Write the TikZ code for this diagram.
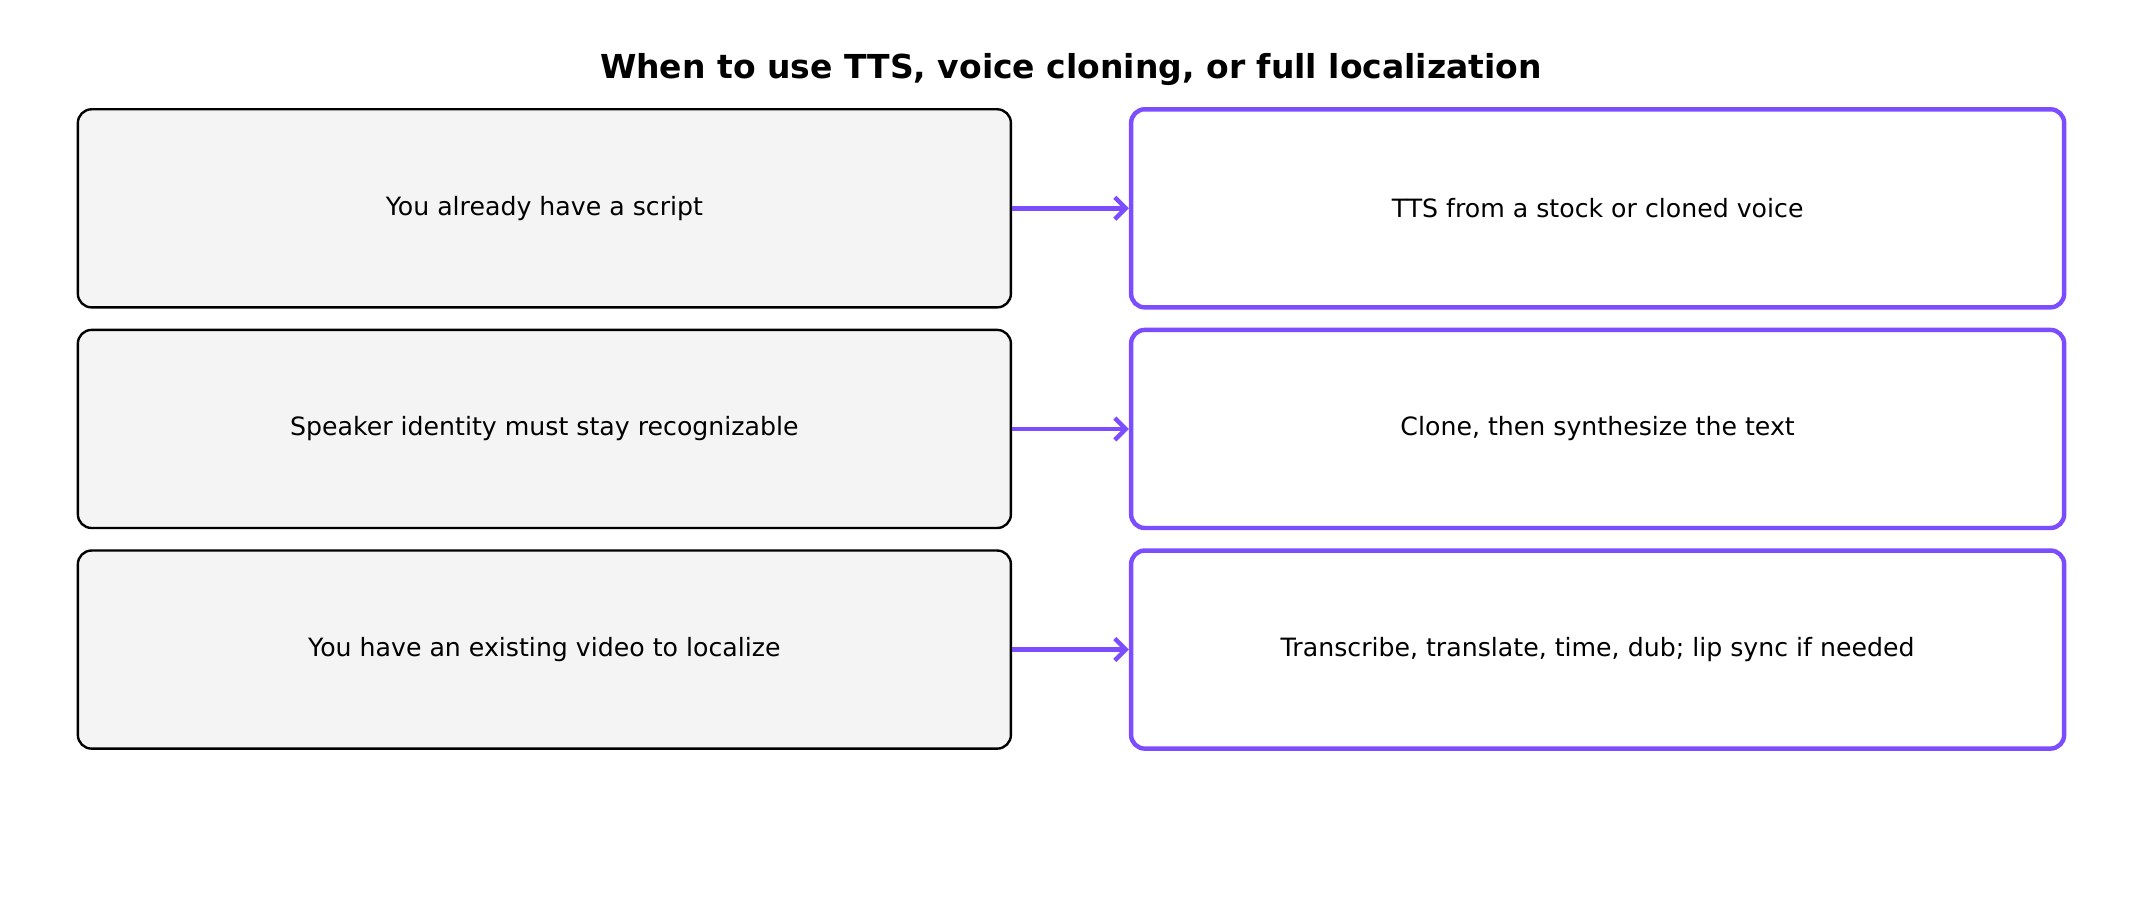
\documentclass[tikz,border=0pt]{standalone}
\usepackage{fontspec}
\setmainfont{DejaVu Sans}
\usetikzlibrary{positioning,arrows.meta}
\definecolor{violet}{HTML}{7C4DFF}
\definecolor{boxgray}{HTML}{F4F4F4}
\begin{document}
\begin{tikzpicture}
			%%%%% START %%%%%
			\tikzset{
				cond/.style={draw=black, fill=boxgray, rounded corners=0.2cm, line width=0.35mm, minimum width=13.66cm, minimum height=2.9cm, font=\fontsize{10.5}{12}\selectfont},
				act/.style={draw=violet, fill=white, rounded corners=0.2cm, line width=0.65mm, minimum width=13.66cm, minimum height=2.9cm, font=\fontsize{10.5}{12}\selectfont},
				link/.style={draw=violet, line width=0.65mm, -{Straight Barb[length=1.6mm, width=3.2mm]}}
			}
			\useasboundingbox (0, 0) rectangle (31.36, 13.44);
			
			\node[font=\bfseries\fontsize{13.75}{15}\selectfont] (title) at (15.68, 12.42) {When to use TTS, voice cloning, or full localization};
			
			\node[cond] (script) at (7.97, 10.39) {You already have a script};
			\node[cond] (speaker) at (7.97, 7.16) {Speaker identity must stay recognizable};
			\node[cond] (video) at (7.97, 3.93) {You have an existing video to localize};
			
			\node[act] (tts) at (23.39, 10.39) {TTS from a stock or cloned voice};
			\node[act] (clone) at (23.39, 7.16) {Clone, then synthesize the text};
			\node[act] (dub) at (23.39, 3.93) {Transcribe, translate, time, dub; lip sync if needed};
			
			\draw[link] (script) -- (tts);
			\draw[link] (speaker) -- (clone);
			\draw[link] (video) -- (dub);
			%%%%% END %%%%%
\end{tikzpicture}
\end{document}
